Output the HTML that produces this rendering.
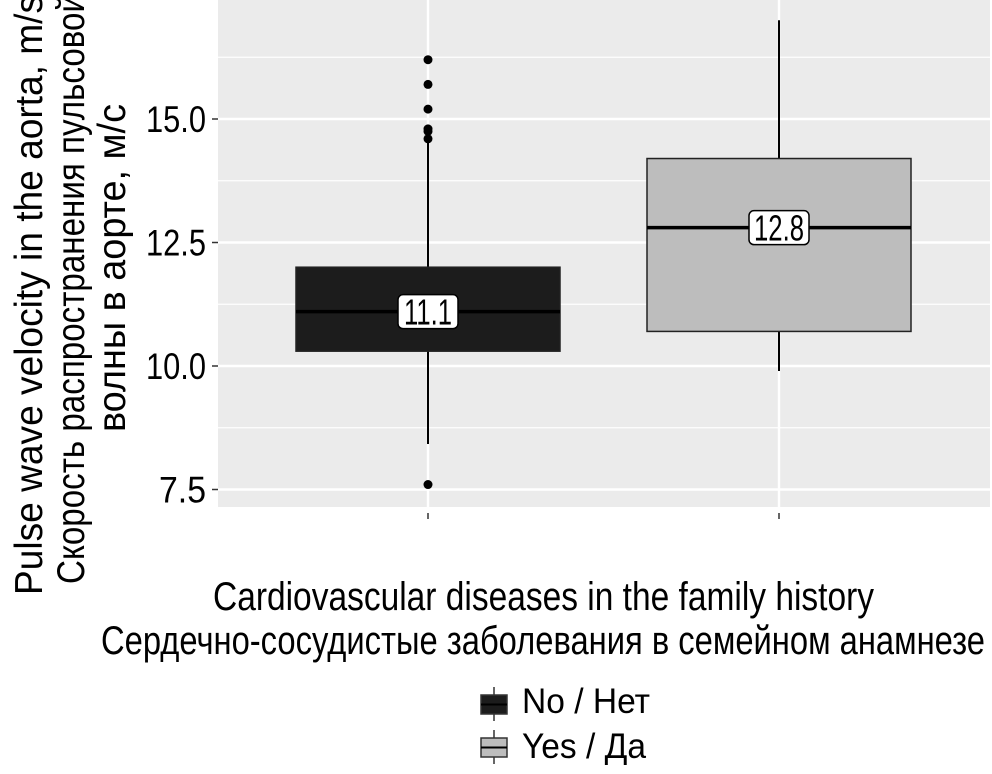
<!DOCTYPE html>
<html><head><meta charset="utf-8"><style>
html,body{margin:0;padding:0;background:#fff;}
svg{display:block;font-family:"Liberation Sans Narrow","Liberation Sans","Noto Sans CJK SC",sans-serif;}
</style></head><body>
<svg id="chart" width="992" height="774" viewBox="0 0 992 774">
<rect x="218" y="0" width="772" height="507" fill="#ebebeb"/>
<g id="grid"></g>
<g id="boxes"></g>
<g id="yaxis"></g>
<g id="xaxis"></g>
<text x="0" y="0" transform="translate(42,295) rotate(-90)" text-anchor="middle" font-size="39" textLength="600" lengthAdjust="spacingAndGlyphs">Pulse wave velocity in the aorta, m/s</text>
<text x="0" y="0" transform="translate(84,289) rotate(-90)" text-anchor="middle" font-size="39" textLength="590" lengthAdjust="spacingAndGlyphs">Скорость распространения пульсовой</text>
<text x="0" y="0" transform="translate(125,268) rotate(-90)" text-anchor="middle" font-size="39" textLength="328" lengthAdjust="spacingAndGlyphs">волны в аорте, м/с</text>
<text x="213" y="610" font-size="40" textLength="661" lengthAdjust="spacingAndGlyphs">Cardiovascular diseases in the family history</text>
<text x="101" y="654" font-size="40" textLength="884" lengthAdjust="spacingAndGlyphs">Сердечно-сосудистые заболевания в семейном анамнезе</text>
<g>
<g>
<line x1="494" y1="687" x2="494" y2="721" stroke="#333" stroke-width="1.5"/>
<rect x="481" y="695" width="26" height="19" fill="#1c1c1c" stroke="#333" stroke-width="1.5"/>
<line x1="481" y1="704.5" x2="507" y2="704.5" stroke="#000" stroke-width="2"/>
<text x="522" y="713" font-size="35" textLength="128" lengthAdjust="spacingAndGlyphs">No / Нет</text>
</g>
<g>
<line x1="494" y1="730" x2="494" y2="764" stroke="#333" stroke-width="1.5"/>
<rect x="481" y="738" width="26" height="19" fill="#bdbdbd" stroke="#333" stroke-width="1.5"/>
<line x1="481" y1="747.5" x2="507" y2="747.5" stroke="#000" stroke-width="2"/>
<text x="522" y="758" font-size="35" textLength="124" lengthAdjust="spacingAndGlyphs">Yes / Да</text>
</g>
</g>
</svg>
<script>
const categories = ["No / Нет", "Yes / Да"];
const q1Values = [10.3, 10.7];
const medianValues = [11.1, 12.8];
const q3Values = [12.0, 14.2];
const whiskerLow = [8.42, 9.9];
const whiskerHigh = [14.55, 17.0];
const outliersNo = [16.2, 15.7, 15.2, 14.8, 14.75, 14.6, 7.6];
const outliersYes = [];
const medianLabels = ["11.1", "12.8"];
const boxFills = ["#1c1c1c", "#bdbdbd"];
const yTicks = [7.5, 10.0, 12.5, 15.0];
const yTickLabels = ["7.5", "10.0", "12.5", "15.0"];
const yMinorTicks = [8.75, 11.25, 13.75, 16.25];

const NS = "http://www.w3.org/2000/svg";
const panel = {x0:218, x1:990};
function yScale(v){ return 366 - (v - 10) * 49.4; }
function xScale(i){ return 428 + i * 351; }
const boxHalf = 132;
function mk(tag, attrs, parent){
  const e = document.createElementNS(NS, tag);
  for (const k in attrs) e.setAttribute(k, attrs[k]);
  parent.appendChild(e);
  return e;
}
const grid = document.getElementById('grid');
yMinorTicks.forEach(v=>{
  const l = mk('line',{x1:panel.x0,x2:panel.x1,y1:yScale(v),y2:yScale(v),stroke:'#fff','stroke-width':1.2},grid);
  
  
});
yTicks.forEach(v=>{
  const l = mk('line',{x1:panel.x0,x2:panel.x1,y1:yScale(v),y2:yScale(v),stroke:'#fff','stroke-width':2.4},grid);
  
  
});
categories.forEach((c,i)=>{
  const l = mk('line',{x1:xScale(i),x2:xScale(i),y1:0,y2:507,stroke:'#fff','stroke-width':2.4},grid);
  
  
});
const yaxis = document.getElementById('yaxis');
yTicks.forEach((v,i)=>{
  const t = mk('line',{x1:212,x2:218,y1:yScale(v),y2:yScale(v),stroke:'#333','stroke-width':1.5},yaxis);
  
  
  const lab = mk('text',{x:206,y:yScale(v)+13,'text-anchor':'end','font-size':37},yaxis);
  lab.textContent = yTickLabels[i];
  lab.setAttribute('textLength', yTickLabels[i].length===3 ? 47 : 60);
  lab.setAttribute('lengthAdjust','spacingAndGlyphs');
  
  
});
const xaxis = document.getElementById('xaxis');
categories.forEach((c,i)=>{
  const t = mk('line',{x1:xScale(i),x2:xScale(i),y1:513,y2:519,stroke:'#333','stroke-width':1.5},xaxis);
  
  
});
const boxes = document.getElementById('boxes');
const outliers = [outliersNo, outliersYes];
categories.forEach((c,i)=>{
  const g = mk('g',{},boxes);
  
  
  const cx = xScale(i);
  const w = mk('line',{x1:cx,x2:cx,y1:yScale(whiskerHigh[i]),y2:yScale(whiskerLow[i]),stroke:'#000','stroke-width':2},g);
  
  
  const r = mk('rect',{x:cx-boxHalf,y:yScale(q3Values[i]),width:boxHalf*2,height:yScale(q1Values[i])-yScale(q3Values[i]),fill:boxFills[i],stroke:'#222','stroke-width':1.5},g);
  
  
  const m = mk('line',{x1:cx-boxHalf,x2:cx+boxHalf,y1:yScale(medianValues[i]),y2:yScale(medianValues[i]),stroke:'#000','stroke-width':3.5},g);
  
  
  outliers[i].forEach(v=>{
    const p = mk('circle',{cx:cx,cy:yScale(v),r:4.5,fill:'#000'},g);
    
    
  });
  const lb = mk('rect',{x:cx-30,y:yScale(medianValues[i])-17,width:60,height:34,rx:5,fill:'#fff',stroke:'#000','stroke-width':1.5},g);
  
  
  const lt = mk('text',{x:cx,y:yScale(medianValues[i])+13,'text-anchor':'middle','font-size':36,textLength:i===0?48:50,lengthAdjust:'spacingAndGlyphs'},g);
  lt.textContent = medianLabels[i];
  
  
});
</script>
</body></html>
